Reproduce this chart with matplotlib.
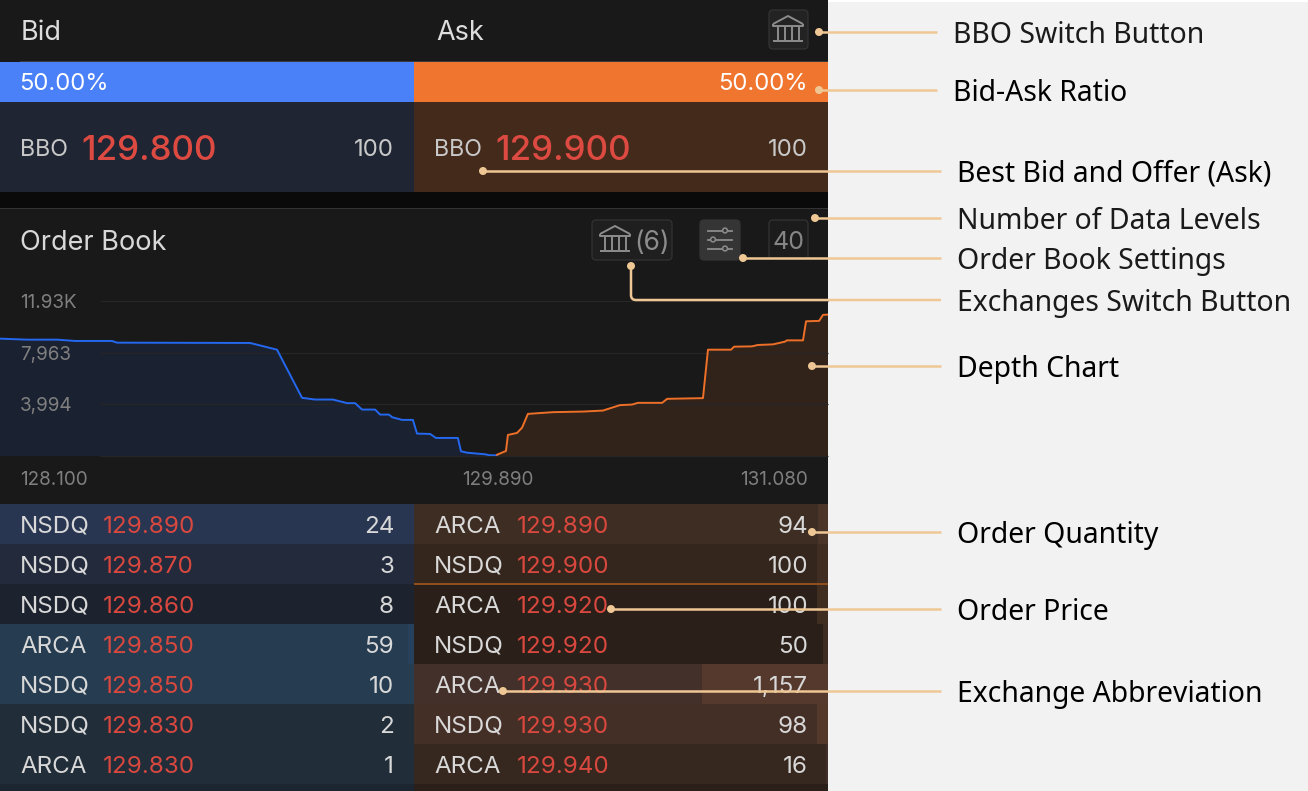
import matplotlib
matplotlib.use("Agg")
import matplotlib.pyplot as plt
from matplotlib.patches import FancyBboxPatch, Rectangle, Circle, PathPatch
from matplotlib.path import Path

# ---------- data ----------
bid_price = [128.100,128.197,128.305,128.370,128.503,128.521,129.000,129.097,129.187,129.234,129.298,129.349,129.378,
             129.403,129.450,129.468,129.500,129.511,129.547,129.586,129.601,129.648,129.669,129.748,129.759,129.781,
             129.846,129.863,129.889]
bid_depth = [9032,8955,8955,8855,8855,8724,8700,8183,4478,4346,4346,4068,4068,3574,3574,3188,3188,2988,2779,2779,1722,
             1698,1390,1390,363,255,131,54,54]
ask_price = [129.889,129.921,129.928,129.961,129.979,130.000,130.090,130.198,130.270,130.331,130.375,130.396,130.483,
             130.501,130.630,130.648,130.731,130.742,130.806,130.828,130.882,130.925,130.932,130.990,131.001,131.048,
             131.062,131.080]
ask_depth = [100,386,1621,1776,2185,3242,3374,3420,3497,3914,3960,4092,4092,4400,4454,8183,8183,8415,8438,8546,8592,
             8801,8901,8901,10368,10399,10862,10885]
y_ticks = [3994, 7963, 11930]
y_tick_labels = ["3,994", "7,963", "11.93K"]
x_ticks = [128.100, 129.890, 131.080]
x_tick_labels = ["128.100", "129.890", "131.080"]

bid_ex = ["NSDQ","NSDQ","NSDQ","ARCA","NSDQ","NSDQ","ARCA"]
bid_px = ["129.890","129.870","129.860","129.850","129.850","129.830","129.830"]
bid_qty = [24,3,8,59,10,2,1]
ask_ex = ["ARCA","NSDQ","ARCA","NSDQ","ARCA","NSDQ","ARCA"]
ask_px = ["129.890","129.900","129.920","129.920","129.930","129.930","129.940"]
ask_qty = [94,100,100,50,1157,98,16]

notes = ["BBO Switch Button","Bid-Ask Ratio","Best Bid and Offer (Ask)","Number of Data Levels","Order Book Settings",
         "Exchanges Switch Button","Depth Chart","Order Quantity","Order Price","Exchange Abbreviation"]

# ---------- style ----------
W, H = 1308, 791
UI = "Inter"
NOTE = "Noto Sans"
DARK = "#191919"
NOTE_SIZE = 20.4
ROW_SIZE = 17.4
bid_bg = ["#283652","#222a3c","#1c222e","#263c50","#263c50","#212d39","#212d39","#1c2630"]
ask_bg = ["#3d2d22","#35261d","#2b2019","#2a1f19","#44302a","#442f26","#36271f","#2b2019"]
ask_bar = ["#4a3528","#412e22","#3f2d20","#3d2c22","#55392c","#54382a","#41302a"]
bid_bar = ["#283652","#222a3c","#1c222e","#27405c","#263c50","#212d39","#212d39"]
LINE = "#efc795"

fig = plt.figure(figsize=(W/100, H/100), dpi=100, facecolor="#f2f2f2")

def pixel_axes(z):
    a = fig.add_axes([0, 0, 1, 1], zorder=z)
    a.set_xlim(0, W); a.set_ylim(H, 0); a.axis("off"); a.patch.set_alpha(0)
    return a

base = pixel_axes(1)
over = pixel_axes(3)

def rect(x0, y0, x1, y1, c, a=base, z=1):
    a.add_patch(Rectangle((x0, y0), x1-x0, y1-y0, fc=c, ec="none", lw=0, zorder=z))

def txt(x, y, s, size, c, ha="left", w=400, fam=UI, a=base):
    a.text(x, y, s, fontsize=size, color=c, ha=ha, va="center_baseline", fontweight=w, family=fam, zorder=5)

# panels
rect(828, 0, W, 2, "#ffffff")
rect(0, 0, 828, 791, DARK)
rect(20, 61, 828, 62, "#3a3a3a", z=2)
rect(0, 62, 414, 102, "#4a80f8")
rect(414, 62, 828, 102, "#f0752f")
rect(0, 102, 414, 192, "#1f2533")
rect(414, 102, 828, 192, "#432a1a")
rect(0, 192, 828, 208, "#0a0a0a")
rect(0, 208, 828, 209, "#333333")

# header text
txt(21, 30, "Bid", 19.5, "#dddddd")
txt(436, 30, "Ask", 19.5, "#dddddd")
txt(19.5, 82, "50.00%", 17.2, "#ffffff")
txt(808, 82, "50.00%", 17.2, "#ffffff", ha="right")
txt(20, 147, "BBO", 16.7, "#c8c8c8")
txt(434, 147, "BBO", 16.7, "#c8c8c8")
txt(81.5, 147, "129.800", 25.2, "#dd4a42", w=500)
txt(495.5, 147, "129.900", 25.2, "#dd4a42", w=500)
txt(394, 147, "100", 17.3, "#c8c8c8", ha="right")
txt(808, 147, "100", 17.3, "#c8c8c8", ha="right")
txt(20, 240, "Order Book", 19.5, "#d8d8d8")

# buttons
def button(x0, y0, x1, y1, fc, ec):
    base.add_patch(FancyBboxPatch((x0, y0), x1-x0, y1-y0, boxstyle="round,pad=0,rounding_size=4",
                                  fc=fc, ec=ec, lw=0.9, zorder=2))

def bank(cx, top, c="#8c8c8c"):
    kw = dict(color=c, lw=1.4, zorder=4, solid_capstyle="butt")
    base.plot([cx-15, cx, cx+15], [top+8, top, top+8], **kw)
    base.plot([cx-15, cx-15, cx+15, cx+15], [top+8, top+10, top+10, top+8], **kw)
    for dx in (-10.5, -3.5, 3.5, 10.5):
        base.plot([cx+dx, cx+dx], [top+10, top+24], **kw)
    base.plot([cx-15, cx+15], [top+25, top+25], **kw)

button(769, 10, 808, 49, "#232323", "#333333")
bank(788, 16)
button(592, 220, 672, 260, "#1f1f1f", "#333333")
bank(615, 226)
txt(634, 240, "(6)", 19, "#8c8c8c")
button(700, 220, 740, 260, "#353535", "#353535")
for yy, xc in ((230.5, 725), (239.5, 713), (248.5, 725)):
    base.plot([708, 732], [yy, yy], color="#8c8c8c", lw=1.3, zorder=4)
    base.add_patch(Circle((xc, yy), 2.4, fc="#353535", ec="#8c8c8c", lw=1.1, zorder=5))
button(769, 220, 808, 262, "#1c1c1c", "#333333")
rect(765, 257, 812, 264, DARK, z=3)
txt(788, 240, "40", 18, "#858585", ha="center")

# order table
ROW, TOP, SCALE = 40, 504, 0.109
for i in range(8):
    y0 = TOP + i*ROW
    y1 = min(y0 + ROW, H)
    rect(0, y0, 414, y1, bid_bg[i])
    rect(414, y0, 828, y1, ask_bg[i])
ycs = [TOP + i*ROW + ROW/2 for i in range(7)]
base.barh(ycs, [q*SCALE for q in ask_qty], left=[828-q*SCALE for q in ask_qty], height=ROW,
          color=ask_bar, lw=0, zorder=2)
base.barh(ycs, [q*SCALE for q in bid_qty], left=[414-q*SCALE for q in bid_qty], height=ROW,
          color=bid_bar, lw=0, zorder=2)
rect(414, 583, 828, 585, "#8f4f1c", z=3)
for i in range(7):
    yc = ycs[i] + 0.5
    txt(20, yc, bid_ex[i], ROW_SIZE, "#d8d8d8")
    txt(102.5, yc, bid_px[i], ROW_SIZE, "#d9483f")
    txt(394, yc, f"{bid_qty[i]:,}", ROW_SIZE, "#d8d8d8", ha="right")
    txt(434, yc, ask_ex[i], ROW_SIZE, "#d8d8d8")
    txt(516.5, yc, ask_px[i], ROW_SIZE, "#d9483f")
    txt(808, yc, f"{ask_qty[i]:,}", ROW_SIZE, "#d8d8d8", ha="right")

# depth chart
ax = fig.add_axes([0, 1-456/H, 828/W, 155/H], zorder=2)
ax.patch.set_alpha(0)
for s in ax.spines.values():
    s.set_visible(False)
ax.set_xlim(128.100, 131.080)
ax.set_ylim(0, 11930)
ax.fill_between(bid_price, bid_depth, 0, facecolor="#1a2130", edgecolor="none", lw=0, zorder=1, antialiased=False)
ax.fill_between(ask_price, ask_depth, 0, facecolor="#31231a", edgecolor="none", lw=0, zorder=1, antialiased=False)
ax.hlines([0]+y_ticks, 128.46, 131.08, color="#262626", lw=0.9, zorder=2, clip_on=False)
ax.plot(bid_price, bid_depth, color="#2468f0", lw=1.4, zorder=3)
ax.plot(ask_price, ask_depth, color="#ee7028", lw=1.4, zorder=3)
ax.set_xticks([]); ax.set_yticks(y_ticks)
ax.set_yticklabels(y_tick_labels, fontsize=13.6, color="#7f7f7f", family=UI, ha="left")
ax.tick_params(axis="y", length=0, pad=-14.4)
for val, lab, ha, dx in zip(x_ticks, x_tick_labels, ("left", "center", "right"), (14.4, 0, -14.4)):
    ax.annotate(lab, xy=(val, 0), xytext=(dx, -16), textcoords="offset points", ha=ha, va="center_baseline",
                fontsize=13.6, color="#7f7f7f", family=UI, annotation_clip=False)

# callouts
lk = dict(color=LINE, lw=1.8, zorder=6, solid_capstyle="butt")
def callout(xd, yd, xe, note, xt, yt, tc="#1a1a1a"):
    over.plot([xd, xe], [yd, yd], **lk)
    over.add_patch(Circle((xd, yd), 4, fc=LINE, ec="none", zorder=7))
    over.text(xt, yt, note, fontsize=NOTE_SIZE, color=tc, family=NOTE, ha="left", va="center_baseline", zorder=8)

callout(819, 32, 937, notes[0], 953, 32)
callout(819, 90, 937, notes[1], 953, 90, "#000000")
callout(483, 171, 941, notes[2], 957, 171, "#000000")
callout(815, 218, 941, notes[3], 957, 218)
callout(743, 258, 941, notes[4], 957, 258)
over.add_patch(PathPatch(Path([(631, 266), (631, 295), (631, 300), (636, 300), (941, 300)],
                              [Path.MOVETO, Path.LINETO, Path.CURVE3, Path.CURVE3, Path.LINETO]),
                         fc="none", ec=LINE, lw=1.8, zorder=6))
over.add_patch(Circle((631, 266), 4, fc=LINE, ec="none", zorder=7))
over.text(957, 300, notes[5], fontsize=NOTE_SIZE, color="#1a1a1a", family=NOTE, ha="left", va="center_baseline", zorder=8)
callout(812, 366, 941, notes[6], 957, 366, "#000000")
callout(812, 532, 941, notes[7], 957, 532, "#000000")
callout(611, 609, 941, notes[8], 957, 609, "#000000")
callout(503, 691, 941, notes[9], 957, 691, "#000000")

fig.savefig("out.png", dpi=100, facecolor=fig.get_facecolor())
